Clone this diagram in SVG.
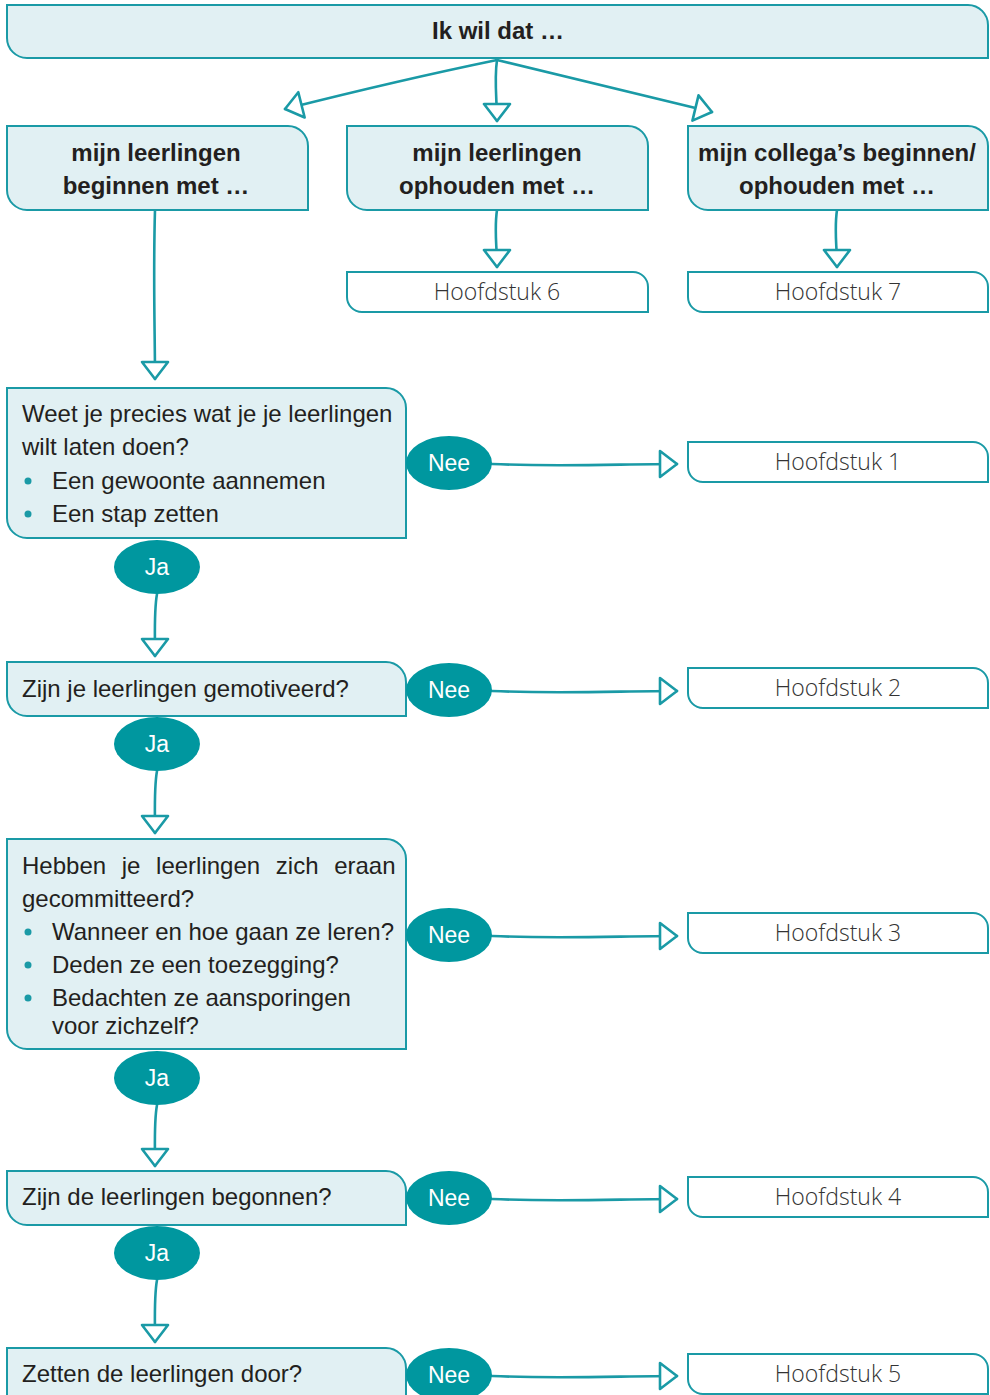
<svg xmlns="http://www.w3.org/2000/svg" width="990" height="1395" viewBox="0 0 990 1395">
<style>
.box{fill:#e1f0f3;stroke:#1a9aa6;stroke-width:2}
.hbox{fill:#ffffff;stroke:#1a9aa6;stroke-width:2}
.ell{fill:#00979f}
.con{fill:none;stroke:#1a9aa6;stroke-width:2.6;stroke-linecap:round}
.t{font-family:"Liberation Sans",Arial,sans-serif;font-size:24px;fill:#231f20}
.b{font-weight:bold;text-anchor:middle}
.h{font-family:"Open Sans","Liberation Sans",sans-serif;font-weight:300;font-size:23px;fill:#333;text-anchor:middle}
.w{font-family:"Liberation Sans",Arial,sans-serif;font-size:23px;fill:#ffffff;text-anchor:middle}
.dot{fill:#1a9aa6}
</style>
<defs>
<marker id="arr" markerUnits="userSpaceOnUse" markerWidth="26" markerHeight="34" viewBox="-3 -3 26 34" refX="19" refY="14" orient="auto">
<path d="M2,1 L19,14 L2,27 Z" fill="#ffffff" stroke="#1a9aa6" stroke-width="2.6" stroke-linejoin="round"/>
</marker>
</defs>

<g id="connectors">
<path class="con" d="M497,60 Q400,80 285,109" marker-end="url(#arr)"/>
<path class="con" d="M497,60 C494,80 497,100 497,121" marker-end="url(#arr)"/>
<path class="con" d="M497,60 Q600,85 712,112" marker-end="url(#arr)"/>
<path class="con" d="M497,210 C494,230 497,245 497,267" marker-end="url(#arr)"/>
<path class="con" d="M837,210 C834,230 837,245 837,267" marker-end="url(#arr)"/>
<path class="con" d="M155,210 C153,280 155,330 155,379" marker-end="url(#arr)"/>
<path class="con" d="M492,464 C560,467 620,464 677,464" marker-end="url(#arr)"/>
<path class="con" d="M492,691 C560,694 620,691 677,691" marker-end="url(#arr)"/>
<path class="con" d="M492,936 C560,939 620,936 677,936" marker-end="url(#arr)"/>
<path class="con" d="M492,1199 C560,1202 620,1199 677,1199" marker-end="url(#arr)"/>
<path class="con" d="M492,1376 C560,1379 620,1376 677,1376" marker-end="url(#arr)"/>
<path class="con" d="M157,594 C154,610 155,630 155,656" marker-end="url(#arr)"/>
<path class="con" d="M157,771 C154,787 155,807 155,833" marker-end="url(#arr)"/>
<path class="con" d="M157,1105 C154,1121 155,1140 155,1166" marker-end="url(#arr)"/>
<path class="con" d="M157,1280 C154,1296 155,1316 155,1342" marker-end="url(#arr)"/>
</g>

<g id="top">
<path class="box" d="M7,5 H968 A20,20 0 0 1 988,25 V58 H27 A20,20 0 0 1 7,38 Z"/>
<text class="t b" x="498" y="39">Ik wil dat …</text>
</g>

<g id="n-beginnen">
<path class="box" d="M7,126 H288 A20,20 0 0 1 308,146 V210 H27 A20,20 0 0 1 7,190 Z"/>
<text class="t b" x="156" y="161">mijn leerlingen</text>
<text class="t b" x="156" y="194">beginnen met …</text>
</g>

<g id="n-ophouden">
<path class="box" d="M347,126 H628 A20,20 0 0 1 648,146 V210 H367 A20,20 0 0 1 347,190 Z"/>
<text class="t b" x="497" y="161">mijn leerlingen</text>
<text class="t b" x="497" y="194">ophouden met …</text>
</g>

<g id="n-collegas">
<path class="box" d="M688,126 H968 A20,20 0 0 1 988,146 V210 H708 A20,20 0 0 1 688,190 Z"/>
<text class="t b" x="837" y="161">mijn collega’s beginnen/</text>
<text class="t b" x="837" y="194">ophouden met …</text>
</g>

<g id="h6">
<path class="hbox" d="M347,272 H633 A15,15 0 0 1 648,287 V312 H362 A15,15 0 0 1 347,297 Z"/>
<text class="h" x="497" y="300">Hoofdstuk 6</text>
</g>
<g id="h7">
<path class="hbox" d="M688,272 H973 A15,15 0 0 1 988,287 V312 H703 A15,15 0 0 1 688,297 Z"/>
<text class="h" x="838" y="300">Hoofdstuk 7</text>
</g>

<g id="q1">
<path class="box" d="M7,388 H386 A20,20 0 0 1 406,408 V538 H27 A20,20 0 0 1 7,518 Z"/>
<text class="t" x="22" y="422">Weet je precies wat je je leerlingen</text>
<text class="t" x="22" y="455">wilt laten doen?</text>
<circle class="dot" cx="28" cy="481" r="3.5"/>
<text class="t" x="52" y="489">Een gewoonte aannemen</text>
<circle class="dot" cx="28" cy="514" r="3.5"/>
<text class="t" x="52" y="522">Een stap zetten</text>
</g>
<g id="nee1"><ellipse class="ell" cx="449" cy="463" rx="43" ry="27"/><text class="w" x="449" y="471">Nee</text></g>
<g id="ja1"><ellipse class="ell" cx="157" cy="567" rx="43" ry="27"/><text class="w" x="157" y="575">Ja</text></g>
<g id="h1">
<path class="hbox" d="M688,442 H973 A15,15 0 0 1 988,457 V482 H703 A15,15 0 0 1 688,467 Z"/>
<text class="h" x="838" y="470">Hoofdstuk 1</text>
</g>

<g id="q2">
<path class="box" d="M7,662 H386 A20,20 0 0 1 406,682 V716 H27 A20,20 0 0 1 7,696 Z"/>
<text class="t" x="22" y="697">Zijn je leerlingen gemotiveerd?</text>
</g>
<g id="nee2"><ellipse class="ell" cx="449" cy="690" rx="43" ry="27"/><text class="w" x="449" y="698">Nee</text></g>
<g id="ja2"><ellipse class="ell" cx="157" cy="744" rx="43" ry="27"/><text class="w" x="157" y="752">Ja</text></g>
<g id="h2">
<path class="hbox" d="M688,668 H973 A15,15 0 0 1 988,683 V708 H703 A15,15 0 0 1 688,693 Z"/>
<text class="h" x="838" y="696">Hoofdstuk 2</text>
</g>

<g id="q3">
<path class="box" d="M7,839 H386 A20,20 0 0 1 406,859 V1049 H27 A20,20 0 0 1 7,1029 Z"/>
<text class="t" x="22" y="874" word-spacing="9">Hebben je leerlingen zich eraan</text>
<text class="t" x="22" y="907">gecommitteerd?</text>
<circle class="dot" cx="28" cy="932" r="3.5"/>
<text class="t" x="52" y="940">Wanneer en hoe gaan ze leren?</text>
<circle class="dot" cx="28" cy="965" r="3.5"/>
<text class="t" x="52" y="973">Deden ze een toezegging?</text>
<circle class="dot" cx="28" cy="998" r="3.5"/>
<text class="t" x="52" y="1006">Bedachten ze aansporingen</text>
<text class="t" x="52" y="1034">voor zichzelf?</text>
</g>
<g id="nee3"><ellipse class="ell" cx="449" cy="935" rx="43" ry="27"/><text class="w" x="449" y="943">Nee</text></g>
<g id="ja3"><ellipse class="ell" cx="157" cy="1078" rx="43" ry="27"/><text class="w" x="157" y="1086">Ja</text></g>
<g id="h3">
<path class="hbox" d="M688,913 H973 A15,15 0 0 1 988,928 V953 H703 A15,15 0 0 1 688,938 Z"/>
<text class="h" x="838" y="941">Hoofdstuk 3</text>
</g>

<g id="q4">
<path class="box" d="M7,1171 H386 A20,20 0 0 1 406,1191 V1225 H27 A20,20 0 0 1 7,1205 Z"/>
<text class="t" x="22" y="1205">Zijn de leerlingen begonnen?</text>
</g>
<g id="nee4"><ellipse class="ell" cx="449" cy="1198" rx="43" ry="27"/><text class="w" x="449" y="1206">Nee</text></g>
<g id="ja4"><ellipse class="ell" cx="157" cy="1253" rx="43" ry="27"/><text class="w" x="157" y="1261">Ja</text></g>
<g id="h4">
<path class="hbox" d="M688,1177 H973 A15,15 0 0 1 988,1192 V1217 H703 A15,15 0 0 1 688,1202 Z"/>
<text class="h" x="838" y="1205">Hoofdstuk 4</text>
</g>

<g id="q5">
<path class="box" d="M7,1348 H386 A20,20 0 0 1 406,1368 V1420 H27 A20,20 0 0 1 7,1400 Z"/>
<text class="t" x="22" y="1382">Zetten de leerlingen door?</text>
</g>
<g id="nee5"><ellipse class="ell" cx="449" cy="1375" rx="43" ry="27"/><text class="w" x="449" y="1383">Nee</text></g>
<g id="h5">
<path class="hbox" d="M688,1354 H973 A15,15 0 0 1 988,1369 V1394 H703 A15,15 0 0 1 688,1379 Z"/>
<text class="h" x="838" y="1382">Hoofdstuk 5</text>
</g>
</svg>
